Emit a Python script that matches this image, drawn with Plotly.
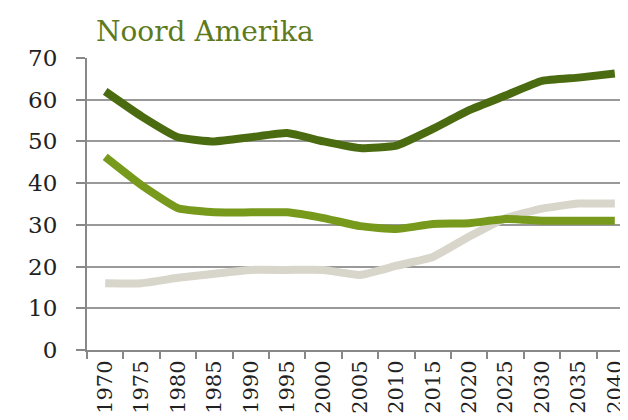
import plotly.graph_objects as go

years = ["1970", "1975", "1980", "1985", "1990", "1995", "2000", "2005",
         "2010", "2015", "2020", "2025", "2030", "2035", "2040"]
dark_series = [62, 56, 51, 50, 51, 52, 50, 48.4, 49, 53, 57.5, 61, 64.5, 65.3, 66.3]
mid_series = [46.3, 39.5, 34, 33, 33, 33, 31.6, 29.7, 29, 30.2, 30.4, 31.4, 31, 31, 31]
light_series = [16, 16, 17.3, 18.3, 19.2, 19.2, 19.2, 18, 20.2, 22.3, 27.2, 31.6, 33.9, 35.1, 35.1]

series = [
    (dark_series, "#4b6b10"),
    (mid_series, "#789a1c"),
    (light_series, "#d8d5ca"),
]

fig = go.Figure()
for vals, col in series[::-1]:
    fig.add_trace(go.Scatter(x=years, y=vals, mode="lines",
                             line=dict(color=col, width=8, shape="spline", smoothing=0.4),
                             showlegend=False, hoverinfo="skip"))

font_serif = "DejaVu Serif, Liberation Serif, serif"
fig.update_layout(
    width=628, height=420,
    margin=dict(l=79, r=3, t=50, b=78),
    paper_bgcolor="white", plot_bgcolor="white",
    title=dict(text="Noord Amerika", x=88/628, xanchor="left", y=1-23/420, yanchor="middle",
               font=dict(family=font_serif, size=28, color="#5e7a1c")),
    font=dict(family=font_serif, size=21, color="#222222"),
)
fig.update_xaxes(type="category", range=[-0.5, 14.5], tickson="boundaries", ticks="outside",
                 ticklen=7, tickcolor="#888888", tickwidth=2, showline=True,
                 linecolor="#888888", linewidth=2, showgrid=False, tickangle=-90,
                 automargin=False,
                 tickfont=dict(family=font_serif, size=21, color="#222222"))
fig.update_yaxes(range=[0, 70], dtick=10, ticks="outside", ticklen=9, tickcolor="#888888",
                 tickwidth=2, showline=True, linecolor="#888888", linewidth=2,
                 showgrid=True, gridcolor="#999999", gridwidth=2, zeroline=False,
                 automargin=False, ticklabelstandoff=14,
                 tickfont=dict(family=font_serif, size=23, color="#222222"))

fig.write_html("out.html")
